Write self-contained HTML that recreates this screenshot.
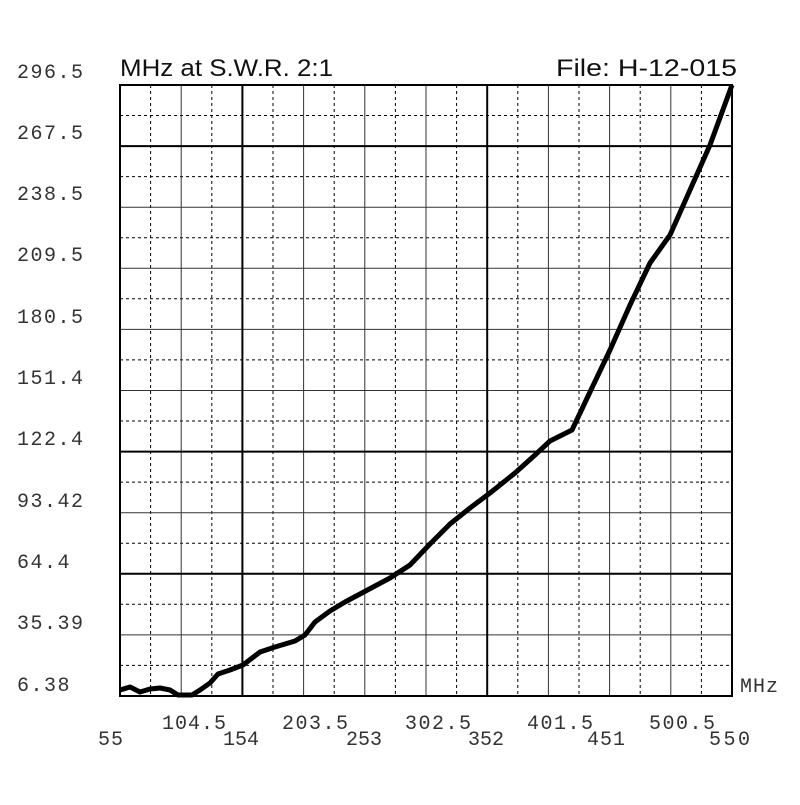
<!DOCTYPE html><html><head><style>body{margin:0;background:#fff}</style></head><body>
<svg width="800" height="800" xmlns="http://www.w3.org/2000/svg">
<g stroke="#000" stroke-width="1" stroke-dasharray="3,3" fill="none">
<line x1="150.6" y1="85" x2="150.6" y2="696"/><line x1="211.8" y1="85" x2="211.8" y2="696"/><line x1="273" y1="85" x2="273" y2="696"/><line x1="334.2" y1="85" x2="334.2" y2="696"/><line x1="395.4" y1="85" x2="395.4" y2="696"/><line x1="456.6" y1="85" x2="456.6" y2="696"/><line x1="517.8" y1="85" x2="517.8" y2="696"/><line x1="579" y1="85" x2="579" y2="696"/><line x1="640.2" y1="85" x2="640.2" y2="696"/><line x1="701.4" y1="85" x2="701.4" y2="696"/>
<line x1="120" y1="115.5" x2="732" y2="115.5"/><line x1="120" y1="176.6" x2="732" y2="176.6"/><line x1="120" y1="237.7" x2="732" y2="237.7"/><line x1="120" y1="298.8" x2="732" y2="298.8"/><line x1="120" y1="359.9" x2="732" y2="359.9"/><line x1="120" y1="421" x2="732" y2="421"/><line x1="120" y1="482.1" x2="732" y2="482.1"/><line x1="120" y1="543.2" x2="732" y2="543.2"/><line x1="120" y1="604.3" x2="732" y2="604.3"/><line x1="120" y1="665.4" x2="732" y2="665.4"/>
</g>
<g stroke="#333" stroke-width="1" fill="none">
<line x1="181.2" y1="85" x2="181.2" y2="696"/><line x1="303.6" y1="85" x2="303.6" y2="696"/><line x1="364.8" y1="85" x2="364.8" y2="696"/><line x1="426" y1="85" x2="426" y2="696"/><line x1="548.4" y1="85" x2="548.4" y2="696"/><line x1="609.6" y1="85" x2="609.6" y2="696"/><line x1="670.8" y1="85" x2="670.8" y2="696"/>
<line x1="120" y1="207.2" x2="732" y2="207.2"/><line x1="120" y1="268.3" x2="732" y2="268.3"/><line x1="120" y1="329.4" x2="732" y2="329.4"/><line x1="120" y1="390.5" x2="732" y2="390.5"/><line x1="120" y1="512.7" x2="732" y2="512.7"/><line x1="120" y1="634.9" x2="732" y2="634.9"/>
</g>
<g stroke="#000" stroke-width="2" fill="none">
<line x1="242.4" y1="85" x2="242.4" y2="696"/><line x1="487.2" y1="85" x2="487.2" y2="696"/>
<line x1="120" y1="146.1" x2="732" y2="146.1"/><line x1="120" y1="451.6" x2="732" y2="451.6"/><line x1="120" y1="573.8" x2="732" y2="573.8"/>
<rect x="120" y="85" width="612" height="611"/>
</g>
<polyline fill="none" stroke="#000" stroke-width="5" stroke-linejoin="round" points="120,690 130,687 140,692 150,689 160,688 170,690 178,695 192,695 200,690 210,683 218,674 230,670 243,665 260,652 275,647 295,641 305,635 315,622 330,611 345,602 360,594 375,586 390,578 410,565 430,544 450,524 470,508 490,493 515,473 535,455 550,441 572,430 590,392 610,350 630,305 650,263 670,235 690,190 710,145 732,85"/>
<g font-family="Liberation Sans, sans-serif" font-size="24" fill="#111" xml:space="preserve">
<text x="120" y="76" textLength="213" lengthAdjust="spacingAndGlyphs">MHz at S.W.R.  2:1</text>
<text x="556" y="76" textLength="181" lengthAdjust="spacingAndGlyphs">File:  H-12-015</text>
</g>
<g font-family="Liberation Mono, monospace" font-size="20" fill="#333" letter-spacing="1.5">
<text x="17" y="78">296.5</text><text x="17" y="139">267.5</text><text x="17" y="200">238.5</text><text x="17" y="261">209.5</text><text x="17" y="323">180.5</text><text x="17" y="384">151.4</text><text x="17" y="445">122.4</text><text x="17" y="507">93.42</text><text x="17" y="568">64.4</text><text x="17" y="629">35.39</text><text x="17" y="691">6.38</text>
</g>
<g font-family="Liberation Mono, monospace" font-size="20" fill="#333">
<text x="98" y="745" textLength="25">55</text><text x="223" y="745" textLength="36">154</text><text x="346" y="745" textLength="36">253</text><text x="468" y="745" textLength="36">352</text><text x="587" y="745" textLength="38">451</text><text x="709" y="745" textLength="41">550</text>
<text x="162" y="729" textLength="64">104.5</text><text x="282" y="729" textLength="66">203.5</text><text x="405" y="729" textLength="66">302.5</text><text x="527" y="729" textLength="66">401.5</text><text x="649" y="729" textLength="66">500.5</text>
<text x="740" y="692" textLength="38">MHz</text>
</g>
</svg></body></html>
